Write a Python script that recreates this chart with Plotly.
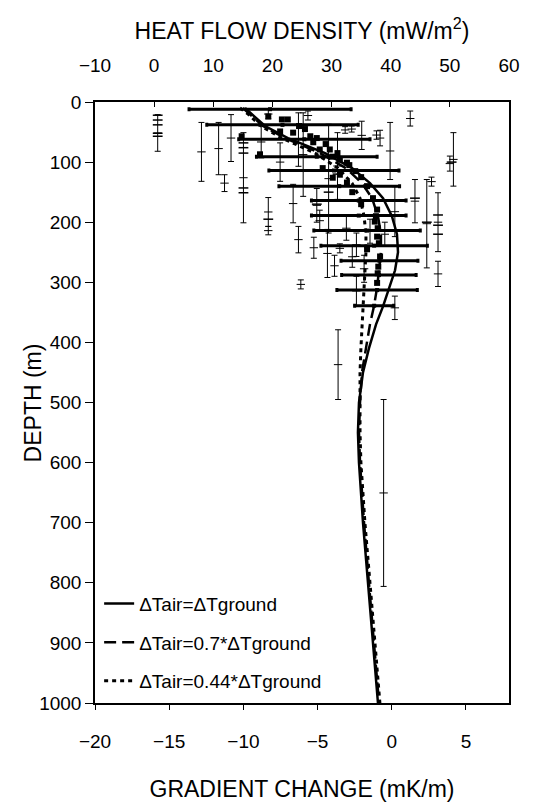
import plotly.graph_objects as go

# ---------------- model curves: gradient change (mK/m) vs depth (m) ----------------
curve_depth = [10, 20, 40, 60, 85, 110, 135, 160, 190, 220, 250, 280, 310, 340, 370,
               410, 450, 500, 550, 600, 700, 800, 900, 1000]
grad_air_eq = [-9.89, -9.42, -8.54, -7.00, -4.50, -2.68, -1.47, -0.59, 0.01, 0.35, 0.42,
               0.22, -0.19, -0.59, -1.06, -1.54, -1.94, -2.21, -2.28, -2.21, -1.94, -1.60,
               -1.27, -0.93]
grad_air_07 = [-10.03, -9.56, -8.68, -7.20, -4.84, -3.09, -2.01, -1.33, -0.93, -0.73, -0.73,
               -0.86, -1.00, -1.20, -1.47, -1.74, -2.01, -2.14, -2.21, -2.14, -1.87, -1.54,
               -1.20, -0.86]
grad_air_044 = [-10.23, -9.69, -8.81, -7.40, -5.18, -3.63, -2.68, -2.14, -1.87, -1.74, -1.74,
                -1.81, -1.87, -1.94, -2.01, -2.08, -2.14, -2.14, -2.14, -2.08, -1.81, -1.47,
                -1.13, -0.80]
legend_names = ["ΔTair=ΔTground", "ΔTair=0.7*ΔTground", "ΔTair=0.44*ΔTground"]

# ---------------- interval heat flow (25 m steps) with errors ----------------
hbar_depth = [12, 38, 62, 91, 114, 140, 164, 189, 214, 239, 264, 288, 313, 339]
hbar_hf = [19.6, 21.7, 25.4, 27.5, 30.4, 31.3, 34.6, 34.6, 36.0, 37.2, 38.1, 38.0, 37.7, 37.2]
hbar_err = [13.7, 12.8, 11.1, 10.2, 11.0, 10.2, 8.0, 8.0, 9.0, 9.0, 6.5, 6.3, 6.8, 3.3]

# ---------------- borehole heat flow over depth intervals ----------------
vb_hf = [0.6, 8.0, 10.9, 11.9, 13.0, 15.1, 18.1, 19.3, 19.3, 21.3, 23.5, 24.4, 24.8, 25.2,
         24.4, 27.5, 29.3, 29.5, 31.0, 43.3, 50.6, 50.0, 39.9, 38.2, 35.1, 46.1, 44.1, 46.9,
         48.0, 48.0, 40.7, 31.1, 38.8, 40.7, 34.2, 31.4, 19.3, 26.0, 33.4, 32.3, 37.6, 34.2,
         27.0, 28.0, 32.5, 33.5, 35.5, 30.5, 36.5, 39.0]
vb_top = [21, 34, 34, 121, 21, 51, 40, 159, 207, 68, 137, 207, 296, 18, 18, 144, 212, 37, 51,
          15, 51, 90, 34, 47, 32, 129, 129, 125, 151, 265, 323, 379, 495, 141, 218, 236, 12,
          15, 40, 41, 48, 290, 225, 180, 190, 240, 255, 255, 195, 200]
vb_bot = [82, 132, 121, 149, 99, 201, 93, 207, 221, 132, 201, 251, 311, 157, 107, 200, 292,
          218, 162, 40, 140, 115, 129, 73, 79, 276, 201, 140, 249, 307, 362, 495, 806, 224,
          257, 251, 28, 30, 50, 52, 62, 339, 260, 215, 230, 275, 300, 290, 235, 240]

# small tick marks on the interval bars
tick_hf = [0.6, 0.6, 0.6, 0.6, 0.6, 15.1, 15.1, 15.1, 15.1, 15.1, 48.0, 48.0, 48.0, 50.3,
           44.1, 46.1, 19.3, 29.5, 31.0, 27.5]
tick_d = [22, 30, 38, 52, 57, 68, 76, 85, 143, 151, 188, 205, 220, 100, 160, 200, 195, 150,
          120, 170]

# individual heat flow values (dense dark points)
pt_hf = [19.3, 21.6, 22.6, 21.3, 23.5, 14.8, 26.4, 26.9, 28.0, 17.9, 29.7, 30.2, 31.4, 32.6,
         31.4, 30.2, 32.6, 37.7, 37.3, 37.7, 38.2, 37.9, 37.7, 28.5, 33.5, 35.0, 36.0,
         24.5, 25.5, 27.5, 29.0, 31.0, 33.0, 34.0, 35.0, 36.0, 37.0, 37.5, 37.8, 38.0, 37.8]
pt_d = [24, 29, 29, 49, 51, 57, 57, 67, 79, 87, 79, 91, 96, 101, 121, 126, 134, 179, 199, 224,
        257, 274, 301, 110, 150, 170, 245,
        40, 45, 60, 70, 85, 105, 115, 125, 140, 160, 190, 210, 235, 285]

FONT = "Liberation Sans, Arial, sans-serif"

fig = go.Figure()

vb_mid = [(a + b) / 2 for a, b in zip(vb_top, vb_bot)]
vb_half = [(b - a) / 2 for a, b in zip(vb_top, vb_bot)]
fig.add_trace(go.Scatter(
    x=vb_hf, y=vb_mid, xaxis="x2", yaxis="y", mode="markers",
    marker=dict(symbol="line-ew", size=6, color="black", line=dict(width=1, color="black")),
    error_y=dict(type="data", array=vb_half, symmetric=True, thickness=1, width=3, color="black"),
    showlegend=False, hoverinfo="skip"))

fig.add_trace(go.Scatter(
    x=tick_hf, y=tick_d, xaxis="x2", yaxis="y", mode="markers",
    marker=dict(symbol="line-ew", size=7, color="black", line=dict(width=1.5, color="black")),
    showlegend=False, hoverinfo="skip"))

fig.add_trace(go.Scatter(
    x=pt_hf, y=pt_d, xaxis="x2", yaxis="y", mode="markers",
    marker=dict(symbol="square", size=6, color="black"),
    showlegend=False, hoverinfo="skip"))

fig.add_trace(go.Scatter(
    x=hbar_hf, y=hbar_depth, xaxis="x2", yaxis="y", mode="markers",
    marker=dict(symbol="square", size=4, color="black"),
    error_x=dict(type="data", array=hbar_err, symmetric=True, thickness=3, width=2, color="black"),
    showlegend=False, hoverinfo="skip"))

styles = [dict(dash="solid", width=2.5), dict(dash="12px,6px", width=2.5),
          dict(dash="4px,4px", width=3)]
for i, (g, st) in enumerate(zip([grad_air_eq, grad_air_07, grad_air_044], styles)):
    fig.add_trace(go.Scatter(
        x=g, y=curve_depth, xaxis="x", yaxis="y", mode="lines",
        line=dict(color="black", **st), name=legend_names[i], legendgroup=f"g{i}"))

axis_common = dict(showline=True, linecolor="black", linewidth=1.5, showgrid=False,
                   zeroline=False, tickcolor="black", tickwidth=1, automargin=False,
                   tickfont=dict(family=FONT, size=19, color="black"))

fig.update_layout(
    width=537, height=802,
    margin=dict(l=95, r=28, t=102, b=99),
    paper_bgcolor="white", plot_bgcolor="white",
    font=dict(family=FONT, color="black"),
    xaxis=dict(range=[-20, 7.9], tickvals=[-20, -15, -10, -5, 0, 5], ticks="outside",
               ticklen=5, ticklabelstandoff=15,
               title=dict(text="GRADIENT CHANGE (mK/m)", font=dict(family=FONT, size=23),
                          standoff=35),
               **axis_common),
    xaxis2=dict(range=[-10, 60], dtick=10, tick0=0, overlaying="x", side="top",
                ticks="inside", ticklen=5, ticklabelstandoff=21,
                title=dict(text="HEAT FLOW DENSITY (mW/m<sup>2</sup>)",
                           font=dict(family=FONT, size=23), standoff=9),
                **axis_common),
    yaxis=dict(range=[1000, 0], dtick=100, tick0=0, ticks="outside", ticklen=8, mirror=True,
               **axis_common),
    legend=dict(x=0.01, y=0.197, xanchor="left", yanchor="top", bgcolor="rgba(0,0,0,0)",
                font=dict(family=FONT, size=19, color="black"), tracegroupgap=11),
    annotations=[dict(text="DEPTH (m)", textangle=-90, xref="paper", yref="paper",
                      x=-0.15, y=0.5, xanchor="center", yanchor="middle", showarrow=False,
                      font=dict(family=FONT, size=23, color="black"))],
)

fig.write_html("out.html")
